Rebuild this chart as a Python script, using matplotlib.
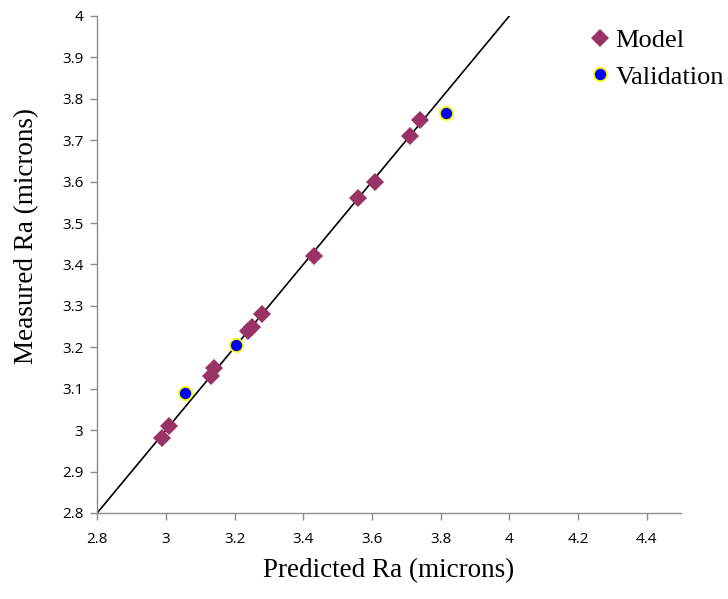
import matplotlib.pyplot as plt

# 모델 데이터 (예측값, 측정값)
model_pred = [2.99, 3.01, 3.13, 3.14, 3.24, 3.25, 3.28, 3.43, 3.56, 3.61, 3.71, 3.74]
model_meas = [2.98, 3.01, 3.13, 3.15, 3.24, 3.25, 3.28, 3.42, 3.56, 3.60, 3.71, 3.75]

# 검증 데이터
valid_pred = [3.055, 3.205, 3.815]
valid_meas = [3.09, 3.205, 3.765]

# y = x 기준선
line_x = [2.8, 4.0]
line_y = [2.8, 4.0]

xticks = [2.8, 3.0, 3.2, 3.4, 3.6, 3.8, 4.0, 4.2, 4.4]
xtick_labels = ['2.8', '3', '3.2', '3.4', '3.6', '3.8', '4', '4.2', '4.4']
yticks = [2.8, 2.9, 3.0, 3.1, 3.2, 3.3, 3.4, 3.5, 3.6, 3.7, 3.8, 3.9, 4.0]
ytick_labels = ['2.8', '2.9', '3', '3.1', '3.2', '3.3', '3.4', '3.5', '3.6', '3.7', '3.8', '3.9', '4']

fig = plt.figure(figsize=(7.28, 5.99), dpi=100)
ax = fig.add_axes([0.1335, 0.1436, 0.802, 0.8297])

ax.plot(line_x, line_y, color='black', lw=1.2, zorder=1)
ax.plot(model_pred, model_meas, 'D', color='#993366', markersize=9,
        markeredgewidth=0, label='Model', zorder=2)
ax.plot(valid_pred, valid_meas, 'o', markerfacecolor='#0000FF', markeredgecolor='#FFFF00',
        markersize=9.5, markeredgewidth=1.3, label='Validation', zorder=3)

ax.set_xlim(2.8, 4.5)
ax.set_ylim(2.8, 4.0)
ax.set_xticks(xticks)
ax.set_xticklabels(xtick_labels)
ax.set_yticks(yticks)
ax.set_yticklabels(ytick_labels)

for s in ['top', 'right']:
    ax.spines[s].set_visible(False)
for s in ['left', 'bottom']:
    ax.spines[s].set_color('#8c8c8c')
    ax.spines[s].set_linewidth(1.0)

ax.tick_params(direction='out', length=5, width=1, color='#8c8c8c',
               labelsize=11, pad=5)
for lab in ax.get_xticklabels() + ax.get_yticklabels():
    lab.set_fontfamily('Open Sans')
ax.tick_params(axis='x', pad=9)

ax.set_xlabel('Predicted Ra (microns)', fontfamily='Liberation Serif', fontsize=19.5, labelpad=8)
ax.set_ylabel('Measured Ra (microns)', fontfamily='Liberation Serif', fontsize=19.5)
ax.yaxis.set_label_coords(-0.1, 0.557)

fig.legend(loc='upper left', bbox_to_anchor=(0.791, 0.970), frameon=False,
           prop={'family': 'Liberation Serif', 'size': 19},
           handletextpad=0.1, handlelength=1.0, labelspacing=0.5, borderaxespad=0)

fig.savefig('out.png', dpi=100)
